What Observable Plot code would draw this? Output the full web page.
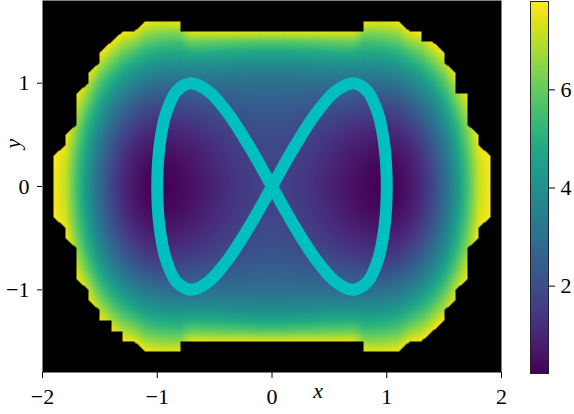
<!DOCTYPE html>
<html>
<head>
<meta charset="utf-8">
<script src="https://cdn.jsdelivr.net/npm/d3@7"></script>
<script src="https://cdn.jsdelivr.net/npm/@observablehq/plot@0.6"></script>
<style>
  html, body { margin: 0; padding: 0; background: #fff; }
  #chart { position: relative; width: 574px; height: 414px; overflow: hidden; }
  #chart svg { position: absolute; top: 0; }
</style>
</head>
<body>
<div id="chart"></div>
<script>
// Grid of the field (one quadrant, mirrored in x and y); null = outside (masked, black)
const gridX = [0, 0.1, 0.2, 0.3, 0.4, 0.5, 0.6, 0.7, 0.8, 0.9, 1.0, 1.1, 1.2, 1.3, 1.4, 1.5, 1.6, 1.7, 1.8, 1.9, 2.0];
const gridY = [0, 0.1, 0.2, 0.3, 0.4, 0.5, 0.6, 0.7, 0.8, 0.9, 1.0, 1.1, 1.2, 1.3, 1.4, 1.5, 1.6, 1.7, 1.8];
const heat = [
  [1.70,1.66,1.56,1.40,1.20,0.98,0.75,0.54,0.37,0.26,0.23,0.34,0.64,1.12,1.80,2.75,4.00,5.50,7.10,7.70,null],
  [1.71,1.67,1.57,1.41,1.22,1.00,0.77,0.56,0.40,0.29,0.26,0.37,0.67,1.15,1.83,2.78,4.03,5.53,7.13,7.71,null],
  [1.75,1.71,1.61,1.46,1.27,1.06,0.84,0.63,0.47,0.37,0.34,0.45,0.76,1.24,1.92,2.87,4.12,5.61,7.20,7.74,null],
  [1.81,1.77,1.68,1.53,1.35,1.15,0.94,0.75,0.60,0.50,0.48,0.60,0.90,1.39,2.07,3.02,4.27,5.74,7.33,7.79,null],
  [1.89,1.86,1.77,1.64,1.47,1.28,1.09,0.91,0.77,0.68,0.67,0.79,1.10,1.59,2.28,3.22,4.48,5.93,7.52,null,null],
  [2.00,1.97,1.89,1.77,1.62,1.46,1.28,1.12,1.00,0.92,0.92,1.05,1.37,1.86,2.55,3.49,4.75,6.18,7.75,null,null],
  [2.13,2.11,2.04,1.93,1.81,1.67,1.51,1.38,1.27,1.21,1.22,1.36,1.68,2.18,2.88,3.81,5.08,6.47,null,null,null],
  [2.30,2.27,2.22,2.13,2.03,1.92,1.79,1.68,1.60,1.55,1.58,1.73,2.06,2.57,3.27,4.20,5.47,6.82,null,null,null],
  [2.49,2.47,2.43,2.37,2.29,2.21,2.12,2.04,1.97,1.95,1.99,2.15,2.50,3.01,3.72,4.64,5.92,7.23,null,null,null],
  [2.72,2.71,2.69,2.65,2.60,2.56,2.50,2.45,2.40,2.40,2.46,2.63,3.00,3.51,4.23,5.14,6.43,7.69,null,null,null],
  [3.02,3.01,3.01,2.99,2.98,2.97,2.95,2.93,2.89,2.91,2.99,3.17,3.55,4.07,4.80,5.70,7.00,null,null,null,null],
  [3.41,3.40,3.42,3.42,3.44,3.47,3.48,3.49,3.44,3.48,3.57,3.77,4.18,4.69,5.43,6.32,7.63,null,null,null,null],
  [3.94,3.93,3.97,4.00,4.04,4.09,4.13,4.17,4.06,4.10,4.22,4.42,4.87,5.37,6.12,7.00,null,null,null,null,null],
  [4.71,4.69,4.75,4.78,4.84,4.91,4.96,5.02,4.76,4.80,4.93,5.14,5.65,6.11,6.87,7.74,null,null,null,null,null],
  [5.82,5.80,5.86,5.90,5.94,6.00,6.04,6.09,5.57,5.58,5.71,5.92,6.52,6.90,7.68,null,null,null,null,null,null],
  [7.48,7.43,7.50,7.50,7.49,7.50,7.49,7.50,6.51,6.46,6.57,6.76,7.50,7.76,null,null,null,null,null,null,null],
  [null,null,null,null,null,null,null,null,7.63,7.45,7.53,7.67,null,null,null,null,null,null,null,null,null],
  [null,null,null,null,null,null,null,null,null,null,null,null,null,null,null,null,null,null,null,null,null],
  [null,null,null,null,null,null,null,null,null,null,null,null,null,null,null,null,null,null,null,null,null]
];

// Figure-eight path
const curveX = [0, 0.195, 0.383, 0.556, 0.707, 0.831, 0.924, 0.981, 1, 0.981, 0.924, 0.831, 0.707, 0.556, 0.383, 0.195,
                0, -0.195, -0.383, -0.556, -0.707, -0.831, -0.924, -0.981, -1, -0.981, -0.924, -0.831, -0.707, -0.556, -0.383, -0.195];
const curveY = [0, 0.383, 0.707, 0.924, 1, 0.924, 0.707, 0.383, 0, -0.383, -0.707, -0.924, -1, -0.924, -0.707, -0.383,
                0, 0.383, 0.707, 0.924, 1, 0.924, 0.707, 0.383, 0, -0.383, -0.707, -0.924, -1, -0.924, -0.707, -0.383];

const xTicks = [-2, -1, 0, 1, 2];
const yTicks = [-1, 0, 1];
const cbTicks = [2, 4, 6];
const colorDomain = [0.22, 7.8];
const xLabel = "x";
const yLabel = "y";

// ---- build tables ----
const MASK = 99;
const cells = [];
const nx = gridX.length - 1, ny = gridY.length - 1;
for (let j = -ny; j <= ny; j++) {
  for (let i = -nx; i <= nx; i++) {
    const v = heat[Math.abs(j)][Math.abs(i)];
    cells.push({x: Math.sign(i) * gridX[Math.abs(i)], y: Math.sign(j) * gridY[Math.abs(j)], v: v == null ? MASK : v});
  }
}
const curve = curveX.map((x, i) => ({x, y: curveY[i]}));

const fmt = d => (d < 0 ? "\u2212" + Math.abs(d) : String(d));
const viridisMasked = t => (t > 1.001 ? "#000000" : d3.interpolateViridis(Math.max(0, t)));
const font = "'Liberation Serif', 'DejaVu Serif', serif";

const main = Plot.plot({
  width: 574, height: 414,
  marginLeft: 42, marginRight: 73, marginTop: 0, marginBottom: 42,
  style: {fontFamily: font, fontSize: "22px", background: "transparent", color: "#000"},
  x: {domain: [-2, 2], ticks: xTicks, tickSize: 6, tickPadding: 10, tickFormat: fmt, label: null},
  y: {domain: [-1.8, 1.8], ticks: yTicks, tickSize: 5, tickPadding: 8, tickFormat: fmt, label: null},
  color: {type: "linear", domain: colorDomain, interpolate: viridisMasked},
  marks: [
    Plot.raster(cells, {x: "x", y: "y", fill: "v", interpolate: "barycentric"}),
    Plot.line(curve, {x: "x", y: "y", stroke: "#00bfbf", strokeWidth: 12, curve: "catmull-rom-closed"}),
    Plot.text([xLabel], {text: d => d, frameAnchor: "bottom", dx: 46, dy: 25, fontStyle: "italic", fontSize: 22}),
    Plot.text([yLabel], {text: d => d, frameAnchor: "left", dx: -30, dy: -38, rotate: -90, fontStyle: "italic", fontSize: 22})
  ]
});
main.style.left = "0px";

const bar = Plot.plot({
  width: 74, height: 414,
  marginLeft: 30, marginRight: 26, marginTop: 1, marginBottom: 41,
  style: {fontFamily: font, fontSize: "22px", background: "transparent", color: "#000"},
  x: {domain: [0, 1], axis: null},
  y: {domain: colorDomain, axis: "right", ticks: cbTicks, tickSize: 6, tickPadding: 6, tickFormat: fmt, label: null},
  color: {type: "linear", domain: colorDomain, scheme: "viridis"},
  marks: [
    Plot.raster({fill: (x, y) => y, x1: 0, x2: 1, y1: colorDomain[0], y2: colorDomain[1]}),
    Plot.frame({stroke: "#222", strokeWidth: 1})
  ]
});
bar.style.left = "500px";

const chart = document.getElementById("chart");
chart.appendChild(main);
chart.appendChild(bar);
</script>
</body>
</html>
